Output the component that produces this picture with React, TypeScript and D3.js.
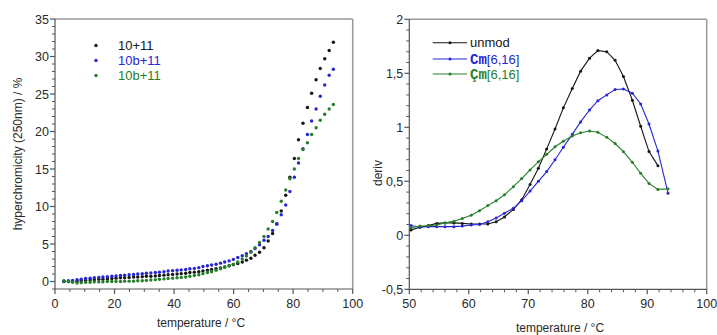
import React from 'react';
import * as d3 from 'd3';

// ---------- Left panel: hyperchromicity vs temperature ----------
const hyperTemps = [
  3.0, 4.5, 5.9, 7.4, 8.8, 10.3, 11.8, 13.2, 14.7, 16.1, 17.6, 19.1, 20.5, 22.0, 23.4, 24.9,
  26.4, 27.8, 29.3, 30.7, 32.2, 33.7, 35.1, 36.6, 38.0, 39.5, 41.0, 42.4, 43.9, 45.3, 46.8,
  48.3, 49.7, 51.2, 52.6, 54.1, 55.6, 57.0, 58.5, 59.9, 61.4, 62.9, 64.3, 65.8, 67.2, 68.7,
  70.2, 71.6, 73.1, 74.5, 76.0, 77.5, 78.9, 80.4, 81.8, 83.3, 84.8, 86.2, 87.7, 89.1, 90.6,
  92.1, 93.5,
];
const hyper10_11 = [
  0.0, 0.0, 0.0, 0.05, 0.1, 0.15, 0.2, 0.25, 0.3, 0.3, 0.35, 0.4, 0.45, 0.5, 0.5, 0.55,
  0.6, 0.6, 0.65, 0.7, 0.7, 0.75, 0.8, 0.85, 0.9, 0.95, 1.0, 1.05, 1.1, 1.2, 1.25,
  1.3, 1.4, 1.5, 1.6, 1.7, 1.8, 1.95, 2.1, 2.25, 2.4, 2.6, 2.85, 3.1, 3.5, 3.9,
  4.5, 5.4, 6.4, 7.7, 9.4, 11.5, 13.9, 16.4, 18.9, 21.1, 23.2, 25.1, 26.9, 28.4, 29.7,
  30.8, 31.9,
];
const hyper10b_11_blue = [
  0.05, 0.1, 0.15, 0.25, 0.3, 0.4, 0.45, 0.5, 0.55, 0.6, 0.65, 0.7, 0.75, 0.8, 0.85, 0.9,
  0.95, 1.0, 1.05, 1.1, 1.15, 1.2, 1.25, 1.3, 1.4, 1.45, 1.5, 1.55, 1.6, 1.7, 1.75,
  1.85, 2.0, 2.1, 2.2, 2.3, 2.45, 2.6, 2.75, 2.95, 3.2, 3.45, 3.7, 4.0, 4.4, 4.9,
  5.5, 6.0, 6.8, 7.65, 8.9, 10.2, 12.0, 13.9, 15.8, 17.7, 19.6, 21.4, 23.0, 24.7, 26.2,
  27.5, 28.3,
];
const hyper10b_11_green = [
  0.1, 0.0, -0.1, -0.2, -0.15, -0.1, -0.1, -0.05, -0.05, -0.05, 0.0, 0.0, 0.0, 0.0, 0.05, 0.05,
  0.05, 0.1, 0.1, 0.15, 0.2, 0.25, 0.3, 0.35, 0.4, 0.45, 0.5, 0.55, 0.6, 0.7, 0.8,
  0.9, 1.05, 1.2, 1.3, 1.5, 1.7, 1.9, 2.1, 2.3, 2.6, 3.0, 3.4, 3.9, 4.5, 5.2,
  6.0, 7.0, 8.0, 9.2, 10.7, 12.2, 13.7, 15.0, 16.4, 17.6, 18.5, 19.6, 20.5, 21.5, 22.3,
  23.0, 23.6,
];
const leftXTicks = [0, 20, 40, 60, 80, 100];
const leftYTicks = [0, 5, 10, 15, 20, 25, 30, 35];
const leftLegend = ['10+11', '10b+11', '10b+11'];

// ---------- Right panel: derivative ----------
const derivTemps = [
  50.3, 51.8, 53.2, 54.6, 56.0, 57.5, 58.9, 60.4, 61.8, 63.2, 64.6, 66.0, 67.5, 68.9, 70.3,
  71.7, 73.1, 74.5, 75.9, 77.4, 78.8, 80.3, 81.7, 83.2, 84.6, 86.0, 87.5, 88.9, 90.3, 91.8, 93.5,
];
const derivUnmod = [
  0.05, 0.075, 0.09, 0.11, 0.115, 0.115, 0.11, 0.105, 0.105, 0.105, 0.125, 0.17, 0.24, 0.33, 0.47,
  0.62, 0.8, 0.985, 1.18, 1.36, 1.52, 1.64, 1.71, 1.7, 1.62, 1.47, 1.25, 1.01, 0.775, 0.645,
];
const derivCm = [
  0.09, 0.075, 0.08, 0.08, 0.08, 0.08, 0.085, 0.095, 0.1, 0.125, 0.16, 0.205, 0.25, 0.32, 0.41,
  0.5, 0.59, 0.7, 0.815, 0.935, 1.05, 1.16, 1.246, 1.3, 1.35, 1.355, 1.315, 1.216, 1.03, 0.78, 0.39,
];
const derivCcm = [
  0.07, 0.086, 0.088, 0.095, 0.115, 0.13, 0.155, 0.185, 0.228, 0.275, 0.32, 0.375, 0.45, 0.525, 0.605,
  0.68, 0.75, 0.82, 0.87, 0.92, 0.95, 0.966, 0.955, 0.907, 0.85, 0.774, 0.676, 0.574, 0.48, 0.425, 0.43,
];
const rightXTicks = [50, 60, 70, 80, 90, 100];
const rightYTicks = [-0.5, 0, 0.5, 1, 1.5, 2];
const rightYTickLabels = ['-0,5', '0', '0,5', '1', '1,5', '2'];

const BLACK = '#151515';
const BLUE = '#2626d4';
const GREEN = '#26802a';
const FONT = '"Liberation Sans", Arial, sans-serif';
const AXIS = '#555';
const FRAME = '#9a9a9a';
const TEXT = '#2a2a2a';
const TICK_FS = 12.5;

function range(a: number, b: number, s: number) {
  const out: number[] = [];
  for (let v = a; v <= b + 1e-9; v += s) out.push(Math.round(v * 1000) / 1000);
  return out;
}

function Frame({ x, y, major, minorX, minorY, xLabels, yLabels, xLabel, yLabel, xLabelPos, yLabelPos }: any) {
  const [x0, x1] = x.range();
  const [y0, y1] = y.range();
  return (
    <g>
      <line x1={x0} x2={x1} y1={y1} y2={y1} stroke={FRAME} strokeWidth={1.5} />
      <line x1={x1} x2={x1} y1={y1} y2={y0} stroke={FRAME} strokeWidth={1.5} />
      <line x1={x0} x2={x1} y1={y0} y2={y0} stroke={AXIS} strokeWidth={1.2} />
      <line x1={x0} x2={x0} y1={y0} y2={y1} stroke={AXIS} strokeWidth={1.2} />
      {minorX.map((v: number, i: number) => (
        <line key={'mx' + i} x1={x(v)} x2={x(v)} y1={y0} y2={y0 + 3} stroke={AXIS} strokeWidth={1} />
      ))}
      {minorY.map((v: number, i: number) => (
        <line key={'my' + i} x1={x0} x2={x0 - 3} y1={y(v)} y2={y(v)} stroke={AXIS} strokeWidth={1} />
      ))}
      {major.x.map((v: number, i: number) => (
        <g key={'X' + i}>
          <line x1={x(v)} x2={x(v)} y1={y0} y2={y0 + 5} stroke={AXIS} strokeWidth={1.2} />
          <text x={x(v)} y={y0 + 19} textAnchor="middle" fontSize={TICK_FS} fill={TEXT} fontFamily={FONT}>
            {xLabels[i]}
          </text>
        </g>
      ))}
      {major.y.map((v: number, i: number) => (
        <g key={'Y' + i}>
          <line x1={x0} x2={x0 - 5} y1={y(v)} y2={y(v)} stroke={AXIS} strokeWidth={1.2} />
          <text x={x0 - 6} y={y(v) + 4.5} textAnchor="end" fontSize={TICK_FS} fill={TEXT} fontFamily={FONT}>
            {yLabels[i]}
          </text>
        </g>
      ))}
      <text x={xLabelPos[0]} y={xLabelPos[1]} textAnchor="middle" fontSize={12} fill={TEXT} fontFamily={FONT}>
        {xLabel}
      </text>
      <text
        transform={`translate(${yLabelPos[0]},${yLabelPos[1]}) rotate(-90)`}
        textAnchor="middle"
        fontSize={12}
        fill={TEXT}
        fontFamily={FONT}
      >
        {yLabel}
      </text>
    </g>
  );
}

export default function App() {
  const xL = d3.scaleLinear().domain([0, 100]).range([55, 352.7]);
  const yL = d3.scaleLinear().domain([-1, 35]).range([289, 19]);
  const xR = d3.scaleLinear().domain([50, 100]).range([409.3, 706.7]);
  const yR = d3.scaleLinear().domain([-0.5, 2]).range([289.3, 19.3]);

  const leftSeries = [
    { vals: hyper10_11, color: BLACK },
    { vals: hyper10b_11_blue, color: BLUE },
    { vals: hyper10b_11_green, color: GREEN },
  ];
  const rightSeries = [
    { vals: derivUnmod, color: BLACK },
    { vals: derivCm, color: BLUE },
    { vals: derivCcm, color: GREEN },
  ];
  const line = d3
    .line<[number, number]>()
    .x((d) => xR(d[0]))
    .y((d) => yR(d[1]));

  const legendY = [45.5, 60.5, 75.5];
  const rLegendY = [42.7, 59, 74];

  return (
    <svg
      width={717}
      height={335}
      style={{ position: 'absolute', left: 0, top: 0, background: '#fff' }}
      xmlns="http://www.w3.org/2000/svg"
    >
      <rect width={717} height={335} fill="#fff" />
      {/* Left panel */}
      <Frame
        x={xL}
        y={yL}
        major={{ x: leftXTicks, y: leftYTicks }}
        minorX={range(0, 100, 5).filter((v) => v % 20 !== 0)}
        minorY={range(-1, 35, 1).filter((v) => v % 5 !== 0)}
        xLabels={leftXTicks.map(String)}
        yLabels={leftYTicks.map(String)}
        xLabel="temperature / °C"
        yLabel="hyperchromicity (250nm) / %"
        xLabelPos={[201, 327]}
        yLabelPos={[22, 154]}
      />
      {leftSeries.map((s, si) => (
        <g key={'ls' + si}>
          {s.vals.map((v, i) => (
            <circle key={i} cx={xL(hyperTemps[i])} cy={yL(v)} r={1.7} fill={s.color} />
          ))}
        </g>
      ))}
      {leftSeries.map((s, si) => (
        <g key={'lg' + si}>
          <circle cx={96} cy={legendY[si]} r={1.7} fill={s.color} />
          <text x={118} y={legendY[si] + 4.5} fontSize={13} fill={s.color} fontFamily={FONT}>
            {leftLegend[si]}
          </text>
        </g>
      ))}

      {/* Right panel */}
      <Frame
        x={xR}
        y={yR}
        major={{ x: rightXTicks, y: rightYTicks }}
        minorX={range(50, 100, 2).filter((v) => v % 10 !== 0)}
        minorY={range(-0.5, 2, 0.1).filter((v) => Math.abs(v * 2 - Math.round(v * 2)) > 1e-6)}
        xLabels={rightXTicks.map(String)}
        yLabels={rightYTickLabels}
        xLabel="temperature / °C"
        yLabel="deriv"
        xLabelPos={[560, 332]}
        yLabelPos={[382, 173]}
      />
      {rightSeries.map((s, si) => {
        const pts: [number, number][] = s.vals.map((v, i) => [derivTemps[i], v]);
        return (
          <g key={'rs' + si}>
            <path d={line(pts) || ''} fill="none" stroke={s.color} strokeWidth={1.1} />
            {pts.map((p, i) => (
              <circle key={i} cx={xR(p[0])} cy={yR(p[1])} r={1.5} fill={s.color} />
            ))}
          </g>
        );
      })}
      {rightSeries.map((s, si) => (
        <g key={'rg' + si}>
          <line x1={432.7} x2={467} y1={rLegendY[si]} y2={rLegendY[si]} stroke={s.color} strokeWidth={1.1} />
          <circle cx={450} cy={rLegendY[si]} r={1.5} fill={s.color} />
        </g>
      ))}
      <text x={470} y={rLegendY[0] + 4.5} fontSize={13} fill={BLACK} fontFamily={FONT}>
        unmod
      </text>
      <text x={470} y={rLegendY[1] + 4.5} fontSize={13} fill={BLUE}>
        <tspan fontFamily='"Liberation Mono", "DejaVu Sans Mono", monospace' fontWeight="bold" fontSize={14}>
          Cm
        </tspan>
        <tspan fontFamily={FONT}>[6,16]</tspan>
      </text>
      <text x={470} y={rLegendY[2] + 4.5} fontSize={13} fill={GREEN}>
        <tspan fontFamily='"Liberation Mono", "DejaVu Sans Mono", monospace' fontWeight="bold" fontSize={14}>
          Çm
        </tspan>
        <tspan fontFamily={FONT}>[6,16]</tspan>
      </text>
    </svg>
  );
}
